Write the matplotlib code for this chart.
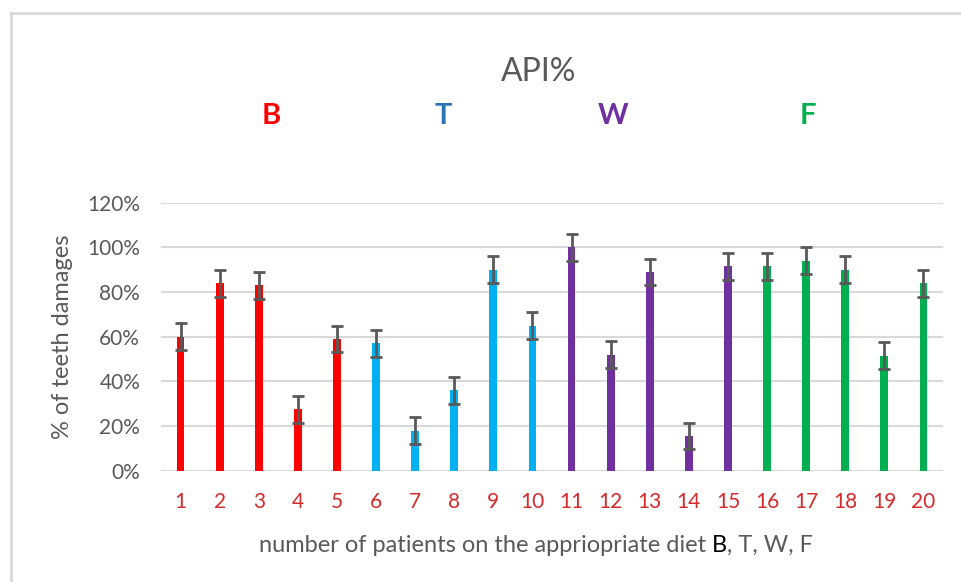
import numpy as np
import matplotlib
matplotlib.use("Agg")
import matplotlib.pyplot as plt
from matplotlib.ticker import FuncFormatter
from matplotlib.lines import Line2D

plt.rcParams['font.family'] = ['Lato', 'DejaVu Sans']

# data (percent)
patients = [str(i) for i in range(1, 21)]
api = [60, 84, 83, 27.5, 59, 57, 18, 36, 90, 65,
       100, 52, 89, 15.5, 91.5, 91.5, 94, 90, 51.5, 84]
err = [6] * 20
groups = ['B'] * 5 + ['T'] * 5 + ['W'] * 5 + ['F'] * 5

bar_colors = {'B': '#ff0000', 'T': '#00b0f0', 'W': '#7030a0', 'F': '#00b050'}
label_colors = {'B': '#ff0000', 'T': '#2e75b6', 'W': '#7030a0', 'F': '#00b050'}
diet_labels = ['B', 'T', 'W', 'F']
diet_x = [271, 443, 613, 808]  # pixel centres of the coloured headings

W, H = 961, 582
fig = plt.figure(figsize=(W / 100, H / 100), dpi=100)
ax = fig.add_axes([161 / W, 1 - 470.7 / H, 782 / W, 268 / H])

x = np.arange(len(patients))
ax.bar(x, api, width=0.2, color=[bar_colors[g] for g in groups], zorder=3)
ax.errorbar(x, api, yerr=err, fmt='none', ecolor='#595959', elinewidth=2,
            capsize=4.5, capthick=2, zorder=4)

ax.set_xlim(-0.5, len(patients) - 0.5)
ax.set_ylim(0, 120)
ax.set_yticks(np.arange(0, 121, 20))
ax.yaxis.set_major_formatter(FuncFormatter(lambda v, p: f'{v:.0f}%'))
ax.set_xticks(x)
ax.set_xticklabels(patients)
ax.grid(axis='y', color='#d9d9d9', linewidth=1.5, zorder=0)
for s in ax.spines.values():
    s.set_visible(False)
ax.tick_params(axis='y', length=0, pad=15, labelsize=15, labelcolor='#595959')
ax.tick_params(axis='x', length=0, pad=15, labelsize=15, labelcolor='#d42a2a')

ax.set_ylabel('% of teeth damages', fontsize=17, color='#595959')
ax.yaxis.set_label_coords(-(161 - 73) / 782, 0.5)

# title and group headings
fig.text(539 / W, 1 - 72 / H, 'API%', fontsize=23, color='#595959',
         ha='center', va='center')
for lab, px in zip(diet_labels, diet_x):
    fig.text(px / W, 1 - 116 / H, lab, fontsize=21, fontweight='bold',
             color=label_colors[lab], ha='center', va='center')

# x label in three pieces (the "B" is black)
t1 = fig.text(0, 1 - 545 / H, 'number of patients on the appriopriate diet ',
              fontsize=17, color='#595959', va='center')
t2 = ax.annotate('B', xy=(1, 0), xycoords=t1, va='bottom', fontsize=17,
                 color='black', annotation_clip=False)
t3 = ax.annotate(', T, W, F', xy=(1, 0), xycoords=t2, va='bottom',
                 fontsize=17, color='#595959', annotation_clip=False)
fig.canvas.draw()
r = fig.canvas.get_renderer()
total = (t3.get_window_extent(r).x1 - t1.get_window_extent(r).x0)
t1.set_x((536 - total / 2) / W)

# outer chart border (only top and left visible)
fig.add_artist(Line2D([11 / W, 1], [1 - 13 / H, 1 - 13 / H],
                      transform=fig.transFigure, color='#d9d9d9', lw=2))
fig.add_artist(Line2D([11 / W, 11 / W], [0, 1 - 13 / H],
                      transform=fig.transFigure, color='#d9d9d9', lw=2))

fig.savefig('out.png', dpi=100)
